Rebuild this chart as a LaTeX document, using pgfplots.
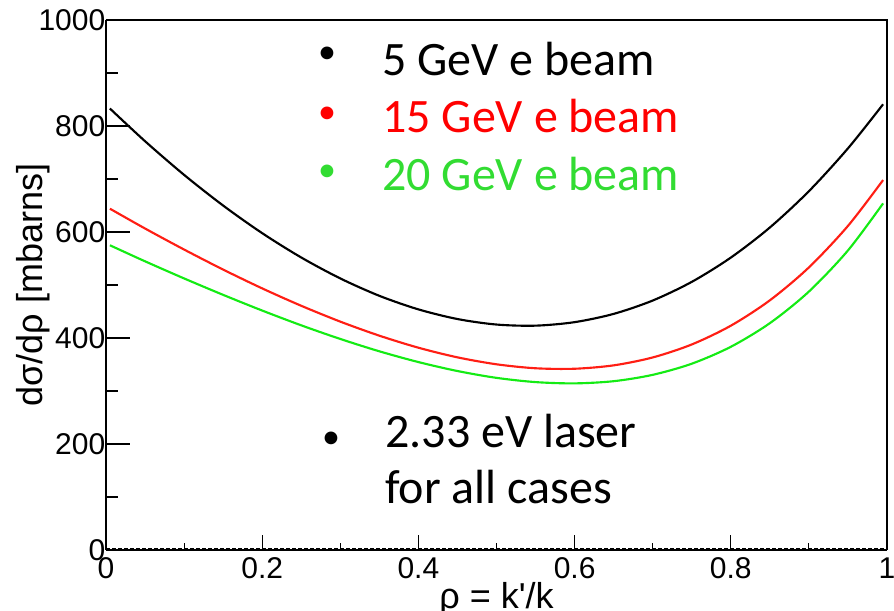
\documentclass[border=0pt]{standalone}
\usepackage{pgfplots}
\pgfplotsset{compat=1.18}
\usepackage{fontspec}
\setmainfont[Ligatures=NoCommon]{Liberation Sans}
\newfontfamily\plainsans[Mapping=]{Liberation Sans}
\newfontfamily\calibri{Carlito}

\definecolor{beamred}{RGB}{255,30,20}
\definecolor{beamgreen}{RGB}{20,235,20}
\definecolor{txtred}{RGB}{255,0,0}
\definecolor{txtgreen}{RGB}{50,220,50}

% rho = k'/k, cross section in mbarn
\pgfplotstableread{
rho    s5     s15    s20
0.005  833    644    575
0.05   771.3  606.6  544.7
0.10   707.8  566.9  512.4
0.15   649.9  529.1  481.4
0.20   597.8  493.6  451.8
0.25   551.9  460.8  423.9
0.30   512.4  430.9  398.2
0.35   479.6  404.4  374.9
0.40   454.0  381.7  354.6
0.45   435.8  363.5  337.7
0.50   425.4  350.4  324.8
0.55   423.3  342.9  316.8
0.60   429.9  342.0  314.4
0.65   445.5  348.4  318.5
0.70   470.7  363.3  330.5
0.75   505.9  387.8  351.5
0.80   551.7  423.2  383.4
0.85   608.5  471.1  428.0
0.90   677.0  533.2  487.6
0.95   757.8  611.5  565.2
0.995  841    698    654
}\xsec

\begin{document}
\begin{tikzpicture}
\path[use as bounding box] (0pt,0pt) rectangle (670.5pt,-458.25pt);
\begin{axis}[
  at={(79.5pt,-412.5pt)}, anchor=south west,
  scale only axis, width=585.75pt, height=397.5pt,
  xmin=0, xmax=1, ymin=0, ymax=1000,
  xtick={0,0.2,0.4,0.6,0.8,1},
  xticklabels={0,0.2,0.4,0.6,0.8,1},
  ytick={0,200,400,600,800,1000},
  yticklabels={0,200,400,600,800,1000},
  minor y tick num=1,
  tick align=inside,
  major tick length=18pt, minor tick length=9pt,
  xtick style={draw=none},
  axis x line*=bottom, axis y line*=left,
  axis line style={line width=1pt, -},
  every tick/.style={black, line width=0.8pt},
  ytick pos=left,
  /pgf/number format/assume math mode=true,
  ticklabel style={font=\fontsize{22.5}{26}\selectfont},
  xticklabel style={yshift=-2pt},
  yticklabel style={xshift=3pt},
  xlabel={ρ = k{\plainsans\textquotesingle}/k},
  ylabel={dσ/dρ [mbarns]},
  label style={font=\fontsize{27}{32}\selectfont},
  xlabel style={at={(axis description cs:0.5,-0.1113)}, anchor=base},
  ylabel style={at={(axis description cs:-0.0935,0.5)}, anchor=center},
  clip=false,
]
% frame top and right
\draw[line width=1pt] (axis cs:0,1000) -- (axis cs:1,1000) -- (axis cs:1,0);
% zero line
\draw[line width=0.7pt, dash pattern=on 3pt off 1.5pt]
  ([yshift=1.2pt]axis cs:0,0) -- ([yshift=1.2pt]axis cs:1,0);
% x ticks
\pgfplotsinvokeforeach{0.2,0.4,0.6,0.8}{
  \draw[line width=0.8pt] (axis cs:#1,0) -- ++(0pt,11pt);}
\pgfplotsinvokeforeach{0.1,0.3,0.5,0.7,0.9}{
  \draw[line width=0.8pt] (axis cs:#1,0) -- ++(0pt,5pt);}

\addplot[black, line width=1.6pt, smooth] table[x=rho, y=s5] {\xsec};
\addplot[beamred, line width=1.6pt, smooth] table[x=rho, y=s15] {\xsec};
\addplot[beamgreen, line width=1.6pt, smooth] table[x=rho, y=s20] {\xsec};
\end{axis}

% annotations (positions in pixel units, y downwards)
\begin{scope}[x=0.75pt, y=-0.75pt,
  every node/.style={inner sep=0pt, font=\calibri\fontsize{36}{43}\selectfont}]
\begin{scope}[every node/.append style={font=\calibri\fontsize{27}{32}\selectfont}]
\node[anchor=center] at (327,55) {•};
\node[anchor=center, txtred] at (327,115) {•};
\node[anchor=center, txtgreen] at (327,173) {•};
\node[anchor=center] at (331,440) {•};
\end{scope}
\node[anchor=base west] at (382,75) {5 GeV e beam};
\node[anchor=base west, txtred] at (382,132) {15 GeV e beam};
\node[anchor=base west, txtgreen] at (382,190) {20 GeV e beam};
\node[anchor=base west] at (385,447) {2.33 eV laser};
\node[anchor=base west] at (385,503) {for all cases};
\end{scope}
\end{tikzpicture}
\end{document}
